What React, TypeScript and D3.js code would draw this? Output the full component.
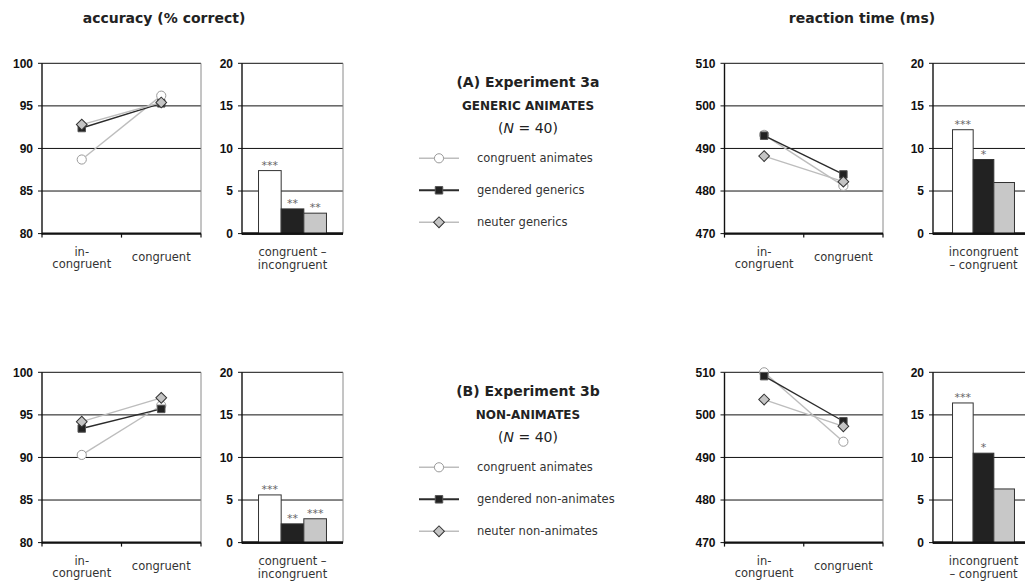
import React from "react";
import * as d3 from "d3";

// conditions on the x axis of the line panels
const conditions = ["incongruent", "congruent"];
const conditionLabels = [["in-", "congruent"], ["congruent"]];

// accuracy (% correct), Experiment 3a
const accA_animates = [88.7, 96.2];
const accA_gendered = [92.4, 95.3];
const accA_neuter = [92.8, 95.4];
// reaction time (ms), Experiment 3a
const rtA_animates = [493.2, 481.2];
const rtA_gendered = [493.0, 483.9];
const rtA_neuter = [488.2, 482.2];

// accuracy (% correct), Experiment 3b
const accB_animates = [90.3, 96.1];
const accB_gendered = [93.4, 95.7];
const accB_neuter = [94.2, 97.0];
// reaction time (ms), Experiment 3b
const rtB_animates = [510.0, 493.7];
const rtB_gendered = [509.1, 498.5];
const rtB_neuter = [503.6, 497.3];

// difference bars + significance stars
const accDiffA = [7.4, 2.9, 2.4];
const accStarsA = ["***", "**", "**"];
const rtDiffA = [12.2, 8.7, 6.0];
const rtStarsA = ["***", "*", ""];
const accDiffB = [5.6, 2.2, 2.8];
const accStarsB = ["***", "**", "***"];
const rtDiffB = [16.4, 10.5, 6.3];
const rtStarsB = ["***", "*", ""];

// tick labels
const accTicks = [80, 85, 90, 95, 100];
const rtTicks = [470, 480, 490, 500, 510];
const diffTicks = [0, 5, 10, 15, 20];

const seriesKeys = ["animates", "gendered", "neuter"];
const legendA = ["congruent animates", "gendered generics", "neuter generics"];
const legendB = ["congruent animates", "gendered non-animates", "neuter non-animates"];

const SANS = "'DejaVu Sans', Verdana, sans-serif";
const TICKFONT = "'Liberation Sans', Arial, sans-serif";

const styles: Record<string, any> = {
  animates: { line: "#bdbdbd", fill: "#ffffff", stroke: "#9a9a9a", shape: "circle" },
  gendered: { line: "#2b2b2b", fill: "#222222", stroke: "#555555", shape: "square" },
  neuter: { line: "#bdbdbd", fill: "#c4c4c4", stroke: "#333333", shape: "diamond" },
};
const barFill: Record<string, string> = { animates: "#ffffff", gendered: "#222222", neuter: "#c8c8c8" };

function Marker({ x, y, k }: { x: number; y: number; k: string }) {
  const s = styles[k];
  if (s.shape === "circle") {
    const p = d3.symbol(d3.symbolCircle, 66)();
    return <path d={p || ""} transform={`translate(${x},${y})`} fill={s.fill} stroke={s.stroke} strokeWidth={1} />;
  }
  if (s.shape === "square") {
    const p = d3.symbol(d3.symbolSquare, 56)();
    return <path d={p || ""} transform={`translate(${x},${y})`} fill={s.fill} stroke={s.stroke} strokeWidth={1} />;
  }
  const p = d3.symbol(d3.symbolSquare, 58)();
  return <path d={p || ""} transform={`translate(${x},${y}) rotate(45)`} fill={s.fill} stroke={s.stroke} strokeWidth={1} />;
}

function YAxis({ x0, x1, y, ticks }: { x0: number; x1: number; y: any; ticks: number[] }) {
  return (
    <g>
      {ticks.map((t) => (
        <g key={t}>
          <line x1={x0} x2={x1} y1={y(t)} y2={y(t)} stroke="#111" strokeWidth={1} />
          <line x1={x0 - 4} x2={x0} y1={y(t)} y2={y(t)} stroke="#111" strokeWidth={1} />
          <text x={x0 - 9} y={y(t)} dy="0.36em" textAnchor="end" fontFamily={TICKFONT} fontWeight="bold" fontSize={12} fill="#111">
            {t}
          </text>
        </g>
      ))}
      <line x1={x1} x2={x1} y1={y.range()[1]} y2={y.range()[0]} stroke="#8a8a8a" strokeWidth={1} />
      <line x1={x0} x2={x0} y1={y.range()[1]} y2={y.range()[0] + 1} stroke="#111" strokeWidth={1.4} />
      <line x1={x0} x2={x1} y1={y.range()[0]} y2={y.range()[0]} stroke="#111" strokeWidth={2.2} />
    </g>
  );
}

function LinePanel({ x0, x1, top, bottom, domain, ticks, series }: any) {
  const y = d3.scaleLinear().domain(domain).range([bottom, top]);
  const x = d3.scaleBand().domain(conditions).range([x0, x1]);
  const line = d3
    .line<number>()
    .x((_, i) => (x(conditions[i]) as number) + x.bandwidth() / 2)
    .y((d) => y(d));
  const boundaries = [x0, (x0 + x1) / 2, x1];
  return (
    <g>
      <YAxis x0={x0} x1={x1} y={y} ticks={ticks} />
      {boundaries.map((b, i) => (
        <line key={i} x1={b} x2={b} y1={bottom} y2={bottom + 4} stroke="#111" strokeWidth={1.2} />
      ))}
      {conditions.map((c, i) => {
        const cx = (x(c) as number) + x.bandwidth() / 2;
        const lines = conditionLabels[i];
        return (
          <text key={c} textAnchor="middle" fontFamily={SANS} fontSize={11.5} fill="#333">
            {lines.length === 2 ? (
              <>
                <tspan x={cx} y={bottom + 22.5}>{lines[0]}</tspan>
                <tspan x={cx} y={bottom + 34.5}>{lines[1]}</tspan>
              </>
            ) : (
              <tspan x={cx} y={bottom + 27.5}>{lines[0]}</tspan>
            )}
          </text>
        );
      })}
      {seriesKeys.map((k, si) => (
        <g key={k}>
          <path d={line(series[si]) || ""} fill="none" stroke={styles[k].line} strokeWidth={1.4} />
          {series[si].map((v: number, i: number) => (
            <Marker key={i} k={k} x={(x(conditions[i]) as number) + x.bandwidth() / 2} y={y(v)} />
          ))}
        </g>
      ))}
    </g>
  );
}

function BarPanel({ x0, x1, top, bottom, values, stars, label, pad }: any) {
  const y = d3.scaleLinear().domain([0, 20]).range([bottom, top]);
  const outer = d3.scaleBand().domain(["diff"]).range([x0, x1]).paddingOuter(pad);
  const inner = d3.scaleBand().domain(seriesKeys).range([0, outer.bandwidth()]);
  const gx = outer("diff") as number;
  return (
    <g>
      <YAxis x0={x0} x1={x1} y={y} ticks={diffTicks} />
      {seriesKeys.map((k, i) => {
        const bx = gx + (inner(k) as number);
        return (
          <g key={k}>
            <rect x={bx} y={y(values[i])} width={inner.bandwidth()} height={bottom - y(values[i])} fill={barFill[k]} stroke="#333" strokeWidth={1} />
            <text x={bx + inner.bandwidth() / 2} y={y(values[i]) - 2} textAnchor="middle" fontFamily={SANS} fontSize={11} fill="#666">
              {stars[i]}
            </text>
          </g>
        );
      })}
      <line x1={x0} x2={x1} y1={bottom} y2={bottom} stroke="#111" strokeWidth={2.2} />
      <text textAnchor="middle" fontFamily={SANS} fontSize={11.5} fill="#333">
        <tspan x={gx + outer.bandwidth() / 2} y={bottom + 22.5}>{label[0]}</tspan>
        <tspan x={gx + outer.bandwidth() / 2} y={bottom + 35}>{label[1]}</tspan>
      </text>
    </g>
  );
}

function Legend({ cx, top, title, subtitle, labels }: any) {
  const rows = [top + 76, top + 108, top + 140];
  return (
    <g>
      <text x={cx} y={top + 5} textAnchor="middle" fontFamily={SANS} fontWeight="bold" fontSize={14} fill="#222">{title}</text>
      <text x={cx} y={top + 28} textAnchor="middle" fontFamily={SANS} fontWeight="bold" fontSize={12} fill="#222">{subtitle}</text>
      <text x={cx} y={top + 51} textAnchor="middle" fontFamily={SANS} fontSize={14} fill="#222">
        (<tspan fontStyle="italic">N</tspan> = 40)
      </text>
      {seriesKeys.map((k, i) => (
        <g key={k}>
          <line x1={419} x2={459} y1={rows[i]} y2={rows[i]} stroke={styles[k].line} strokeWidth={k === "gendered" ? 2 : 1.4} />
          <Marker k={k} x={439} y={rows[i]} />
          <text x={477} y={rows[i]} dy="0.35em" fontFamily={SANS} fontSize={11.5} fill="#333">{labels[i]}</text>
        </g>
      ))}
    </g>
  );
}

export default function App() {
  const rows = [
    { top: 63.3, acc: [accA_animates, accA_gendered, accA_neuter], rt: [rtA_animates, rtA_gendered, rtA_neuter], accDiff: accDiffA, accStars: accStarsA, rtDiff: rtDiffA, rtStars: rtStarsA, title: "(A) Experiment 3a", sub: "GENERIC ANIMATES", legend: legendA },
    { top: 372.3, acc: [accB_animates, accB_gendered, accB_neuter], rt: [rtB_animates, rtB_gendered, rtB_neuter], accDiff: accDiffB, accStars: accStarsB, rtDiff: rtDiffB, rtStars: rtStarsB, title: "(B) Experiment 3b", sub: "NON-ANIMATES", legend: legendB },
  ];
  const h = 170.3;
  return (
    <svg width={1025} height={586} style={{ position: "absolute", left: 0, top: 0, background: "#fff" }}>
      <text x={164} y={23} textAnchor="middle" fontFamily={SANS} fontWeight="bold" fontSize={14} fill="#222">accuracy (% correct)</text>
      <text x={862} y={23} textAnchor="middle" fontFamily={SANS} fontWeight="bold" fontSize={14} fill="#222">reaction time (ms)</text>
      {rows.map((r, i) => (
        <g key={i}>
          <LinePanel x0={42} x1={201} top={r.top} bottom={r.top + h} domain={[80, 100]} ticks={accTicks} series={r.acc} />
          <BarPanel x0={242} x1={343} top={r.top} bottom={r.top + h} values={r.accDiff} stars={r.accStars} label={["congruent \u2013", "incongruent"]} pad={0.243} />
          <Legend cx={528} top={r.top + 19} title={r.title} subtitle={r.sub} labels={r.legend} />
          <LinePanel x0={724.5} x1={883} top={r.top} bottom={r.top + h} domain={[470, 510]} ticks={rtTicks} series={r.rt} />
          <BarPanel x0={933} x1={1034} top={r.top} bottom={r.top + h} values={r.rtDiff} stars={r.rtStars} label={["incongruent", "\u2013 congruent"]} pad={0.315} />
        </g>
      ))}
    </svg>
  );
}
